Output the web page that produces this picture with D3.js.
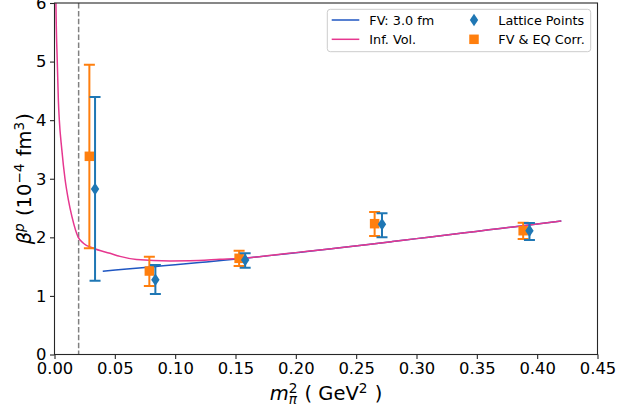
<!DOCTYPE html>
<html>
<head>
<meta charset="utf-8">
<script src="https://cdn.jsdelivr.net/npm/d3@7"></script>
<style>
  html, body { margin: 0; padding: 0; background: #fff; }
  svg { display: block; font-family: "DejaVu Sans", sans-serif; }
</style>
</head>
<body>
<svg id="chart" width="618" height="416"></svg>
<script>
// ---- data ----
const xTicks = [0.00, 0.05, 0.10, 0.15, 0.20, 0.25, 0.30, 0.35, 0.40, 0.45];
const yTicks = [0, 1, 2, 3, 4, 5, 6];
const physicalPoint = 0.02;

// Lattice points (blue diamonds)
const latticeX    = [0.0336, 0.0836, 0.158, 0.2714, 0.3936];
const latticeY    = [2.825, 1.277, 1.613, 2.223, 2.113];
const latticeLow  = [1.260, 1.033, 1.482, 2.001, 1.955];
const latticeHigh = [4.396, 1.528, 1.730, 2.410, 2.245];

// FV & EQ corrected points (orange squares)
const corrX    = [0.0289, 0.0786, 0.153, 0.2653, 0.3884];
const corrY    = [3.383, 1.425, 1.642, 2.233, 2.113];
const corrLow  = [1.813, 1.169, 1.511, 2.023, 1.972];
const corrHigh = [4.947, 1.670, 1.772, 2.433, 2.250];

// FV: 3.0 fm curve
const fvX = [0.04, 0.06, 0.08, 0.10, 0.12, 0.14, 0.16, 0.18, 0.20, 0.22, 0.24, 0.26, 0.28, 0.30, 0.32, 0.34, 0.36, 0.38, 0.40, 0.42];
const fvY = [1.421, 1.458, 1.495, 1.533, 1.570, 1.607, 1.648, 1.692, 1.738, 1.784, 1.829, 1.878, 1.928, 1.978, 2.028, 2.078, 2.128, 2.178, 2.228, 2.277];

// Infinite volume curve
const ivX = [0.0010, 0.0012, 0.0023, 0.0032, 0.0040, 0.0060, 0.0087, 0.0115, 0.0145, 0.0197, 0.0239, 0.0322, 0.0460, 0.0543, 0.068, 0.0958, 0.112, 0.137, 0.16, 0.18, 0.20, 0.22, 0.24, 0.26, 0.28, 0.30, 0.32, 0.34, 0.36, 0.38, 0.40, 0.42];
const ivY = [7.2, 6.0, 5.0, 4.34, 4.0, 3.51, 3.0, 2.64, 2.35, 2.0, 1.90, 1.813, 1.728, 1.675, 1.622, 1.598, 1.600, 1.625, 1.652, 1.694, 1.739, 1.784, 1.829, 1.878, 1.928, 1.978, 2.028, 2.078, 2.128, 2.178, 2.228, 2.277];

// ---- layout ----
const W = 618, H = 416;
const plot = { left: 54.5, right: 597.5, top: 3, bottom: 354.5 };
const svg = d3.select("#chart");

const x = d3.scaleLinear().domain([0, 0.45]).range([plot.left, plot.right]);
const y = d3.scaleLinear().domain([0, 6]).range([plot.bottom, plot.top]);

const C0 = "#1f77b4", C1 = "#ff7f0e";
const fvColor = "#1f56c2", ivColor = "#e6378f";

svg.append("defs").append("clipPath").attr("id", "clip")
  .append("rect").attr("x", plot.left).attr("y", plot.top)
  .attr("width", plot.right - plot.left).attr("height", plot.bottom - plot.top);

const g = svg.append("g").attr("clip-path", "url(#clip)");

// physical point dashed line
g.append("line")
  .attr("x1", x(physicalPoint)).attr("x2", x(physicalPoint))
  .attr("y1", y(6)).attr("y2", y(0))
  .attr("stroke", "#808080").attr("stroke-width", 1.5)
  .attr("stroke-dasharray", "5.5,2.4");

// curves
const line = d3.line().x(d => x(d[0])).y(d => y(d[1])).curve(d3.curveMonotoneX);
g.append("path").datum(fvX.map((v, i) => [v, fvY[i]]))
  .attr("d", line).attr("fill", "none").attr("stroke", fvColor).attr("stroke-width", 1.5);
g.append("path").datum(ivX.map((v, i) => [v, ivY[i]]))
  .attr("d", line).attr("fill", "none").attr("stroke", ivColor).attr("stroke-width", 1.5);

// error bars
function errorBars(xs, ys, lo, hi, color) {
  const cap = 5.5;
  const eg = g.append("g").attr("stroke", color).attr("stroke-width", 2);
  xs.forEach((xv, i) => {
    eg.append("line").attr("x1", x(xv)).attr("x2", x(xv)).attr("y1", y(lo[i])).attr("y2", y(hi[i]));
    eg.append("line").attr("x1", x(xv) - cap).attr("x2", x(xv) + cap).attr("y1", y(lo[i])).attr("y2", y(lo[i]));
    eg.append("line").attr("x1", x(xv) - cap).attr("x2", x(xv) + cap).attr("y1", y(hi[i])).attr("y2", y(hi[i]));
  });
}
function squares(xs, ys, color) {
  const s = 9.5;
  xs.forEach((xv, i) => {
    g.append("rect").attr("x", x(xv) - s / 2).attr("y", y(ys[i]) - s / 2)
      .attr("width", s).attr("height", s).attr("fill", color);
  });
}
function diamondPath(cx, cy, w, h) {
  return `M${cx},${cy - h / 2}L${cx + w / 2},${cy}L${cx},${cy + h / 2}L${cx - w / 2},${cy}Z`;
}
function diamonds(xs, ys, color) {
  xs.forEach((xv, i) => {
    g.append("path").attr("d", diamondPath(x(xv), y(ys[i]), 8.4, 12.5)).attr("fill", color);
  });
}

errorBars(corrX, corrY, corrLow, corrHigh, C1);
squares(corrX, corrY, C1);
errorBars(latticeX, latticeY, latticeLow, latticeHigh, C0);
diamonds(latticeX, latticeY, C0);

// ---- axes ----
const axisColor = "#262626";
const xAxis = svg.append("g").attr("transform", `translate(0,${plot.bottom})`)
  .call(d3.axisBottom(x).tickValues(xTicks).tickFormat(d3.format(".2f")).tickSize(4.5).tickPadding(3.5));
const yAxis = svg.append("g").attr("transform", `translate(${plot.left},0)`)
  .call(d3.axisLeft(y).tickValues(yTicks).tickFormat(d3.format("d")).tickSize(4.5).tickPadding(3.5));
[xAxis, yAxis].forEach(a => {
  a.select(".domain").remove();
  a.selectAll(".tick line").attr("stroke", axisColor).attr("stroke-width", 1.1);
  a.selectAll(".tick text").attr("fill", "#000").style("font-size", "16.4px")
    .style("font-family", "DejaVu Sans");
});
// spines
svg.append("rect").attr("x", plot.left).attr("y", plot.top)
  .attr("width", plot.right - plot.left).attr("height", plot.bottom - plot.top)
  .attr("fill", "none").attr("stroke", axisColor).attr("stroke-width", 1.1);

// ---- axis labels ----
const labelSize = 19.5;
function mathLabel(parent, parts) {
  const grp = parent.append("g");
  let cx = 0;
  parts.forEach(p => {
    if (p.stack) {
      const fs = labelSize * 0.7;
      const a = grp.append("text").attr("x", cx).attr("y", -labelSize * 0.38)
        .style("font-size", fs + "px").style("font-style", p.supItalic ? "italic" : "normal").text(p.sup);
      const b = grp.append("text").attr("x", cx).attr("y", labelSize * 0.22)
        .style("font-size", fs + "px").style("font-style", p.subItalic ? "italic" : "normal").text(p.sub);
      cx += Math.max(a.node().getComputedTextLength(), b.node().getComputedTextLength()) + 1;
    } else if (p.sup) {
      const t = grp.append("text").attr("x", cx).attr("y", -labelSize * 0.38)
        .style("font-size", labelSize * 0.7 + "px").style("font-style", p.italic ? "italic" : "normal").text(p.t);
      cx += t.node().getComputedTextLength() + 1;
    } else {
      const t = grp.append("text").attr("x", cx).attr("y", 0)
        .style("font-size", labelSize + "px").style("font-style", p.italic ? "italic" : "normal")
        .attr("xml:space", "preserve").style("white-space", "pre").text(p.t);
      cx += t.node().getComputedTextLength();
    }
  });
  grp.selectAll("text").attr("fill", "#000").style("font-family", "DejaVu Sans");
  return { grp, width: cx };
}

const xl = mathLabel(svg, [
  { t: "m", italic: true },
  { stack: true, sup: "2", sub: "π", subItalic: true },
  { t: " ( GeV" },
  { t: "2", sup: true },
  { t: " )" }
]);
xl.grp.attr("transform", `translate(${(plot.left + plot.right) / 2 - xl.width / 2},400)`);

const yl = mathLabel(svg, [
  { t: "β", italic: true },
  { t: "p", sup: true, italic: true },
  { t: " (10" },
  { t: "−4", sup: true },
  { t: " fm" },
  { t: "3", sup: true },
  { t: ")" }
]);
yl.grp.attr("transform", `translate(31,${(plot.top + plot.bottom) / 2 + yl.width / 2}) rotate(-90)`);

// ---- legend ----
const lg = svg.append("g");
lg.append("rect").attr("x", 327.3).attr("y", 9.3).attr("width", 263.4).attr("height", 42.4)
  .attr("rx", 3).attr("fill", "#fff").attr("fill-opacity", 0.8)
  .attr("stroke", "#cccccc").attr("stroke-width", 1);
const legendRows = [20, 39.3];
const lfs = 12.8;
const legendItems = [
  { label: "FV: 3.0 fm", kind: "line", color: fvColor, col: 0, row: 0 },
  { label: "Inf. Vol.", kind: "line", color: ivColor, col: 0, row: 1 },
  { label: "Lattice Points", kind: "diamond", color: C0, col: 1, row: 0 },
  { label: "FV & EQ Corr.", kind: "square", color: C1, col: 1, row: 1 }
];
legendItems.forEach(it => {
  const yy = legendRows[it.row];
  if (it.kind === "line") {
    lg.append("line").attr("x1", 331.7).attr("x2", 359.3).attr("y1", yy).attr("y2", yy)
      .attr("stroke", it.color).attr("stroke-width", 1.5);
  } else if (it.kind === "diamond") {
    lg.append("path").attr("d", diamondPath(474, yy, 8.4, 12.5)).attr("fill", it.color);
  } else {
    lg.append("rect").attr("x", 474 - 4.75).attr("y", yy - 4.75).attr("width", 9.5).attr("height", 9.5).attr("fill", it.color);
  }
  lg.append("text").attr("x", it.col === 0 ? 369.3 : 498.3).attr("y", yy + 4.6)
    .style("font-size", lfs + "px").style("font-family", "DejaVu Sans").attr("fill", "#000").text(it.label);
});
</script>
</body>
</html>
